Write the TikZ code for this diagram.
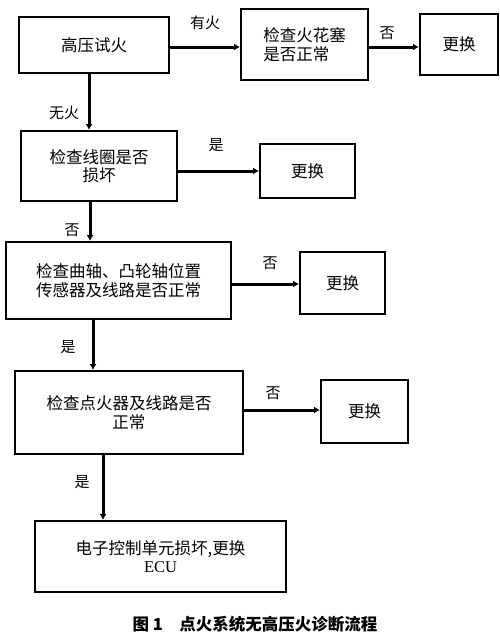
\documentclass[tikz,border=0pt]{standalone}
\usepackage{fontspec}
\setmainfont{Liberation Serif}
\newfontfamily\cjk{Noto Sans CJK SC}
\usetikzlibrary{arrows.meta}
\tikzset{stepbox/.style={draw,line width=2pt,anchor=north west,inner sep=0pt,align=center,font=\cjk\fontsize{16.5}{18.5}\selectfont},flow/.style={line width=3pt,-{Latex[length=6pt,width=7pt]}},tag/.style={inner sep=0pt,font=\cjk\fontsize{15}{17}\selectfont}}
\begin{document}
\begin{tikzpicture}[x=1pt,y=-1pt]
\path[use as bounding box,fill=white] (0,0) rectangle (499,635);
\node[stepbox,minimum width=150pt,minimum height=56pt] (test) at (18,16) {高压试火};
\node[stepbox,minimum width=127pt,minimum height=71pt,align=left] (plug) at (240,8) {检查火花塞\\是否正常};
\node[stepbox,minimum width=78pt,minimum height=61pt] (new1) at (419,13) {更换};
\node[stepbox,minimum width=156pt,minimum height=70pt] (coil) at (20,130) {检查线圈是否\\损坏};
\node[stepbox,minimum width=95pt,minimum height=54pt] (new2) at (259,143) {更换};
\node[stepbox,minimum width=225pt,minimum height=77pt] (sensor) at (5,241) {检查曲轴、凸轮轴位置\\传感器及线路是否正常};
\node[stepbox,minimum width=85pt,minimum height=62pt] (new3) at (299,251) {更换};
\node[stepbox,minimum width=228pt,minimum height=83pt] (igniter) at (14,370) {检查点火器及线路是否\\正常};
\node[stepbox,minimum width=87pt,minimum height=63pt] (new4) at (320,379) {更换};
\node[stepbox,minimum width=251pt,minimum height=71pt] (ecu) at (34,520) {电子控制单元损坏,更换\\{\rmfamily ECU}};
\coordinate (row1) at (0,47);
\coordinate (row2) at (0,171);
\coordinate (row3) at (0,284);
\coordinate (row4) at (0,410);
\coordinate (col1) at (89,0);
\coordinate (col2) at (90,0);
\coordinate (col3) at (93,0);
\coordinate (col4) at (103,0);
\draw[flow] (test.east |- row1) -- (plug.west |- row1);
\draw[flow] (plug.east |- row1) -- (new1.west |- row1);
\draw[flow] (coil.east |- row2) -- (new2.west |- row2);
\draw[flow] (sensor.east |- row3) -- (new3.west |- row3);
\draw[flow] (igniter.east |- row4) -- (new4.west |- row4);
\draw[flow] (test.south -| col1) -- (coil.north -| col1);
\draw[flow] (coil.south -| col2) -- (sensor.north -| col2);
\draw[flow] (sensor.south -| col3) -- (igniter.north -| col3);
\draw[flow] (igniter.south -| col4) -- (ecu.north -| col4);
\node[tag] (fire) at (205,23) {有火};
\node[tag] (no1) at (387,33) {否};
\node[tag] (nofire) at (64,113) {无火};
\node[tag] (yes1) at (216,145) {是};
\node[tag] (no2) at (72,230) {否};
\node[tag] (no3) at (270,263) {否};
\node[tag] (yes2) at (68,347) {是};
\node[tag] (no4) at (273,393) {否};
\node[tag] (yes3) at (82,482) {是};
\node[inner sep=0pt,font=\cjk\bfseries\fontsize{16.5}{18}\selectfont] (caption) at (255,624) {图 1\quad 点火系统无高压火诊断流程};
\end{tikzpicture}
\end{document}
